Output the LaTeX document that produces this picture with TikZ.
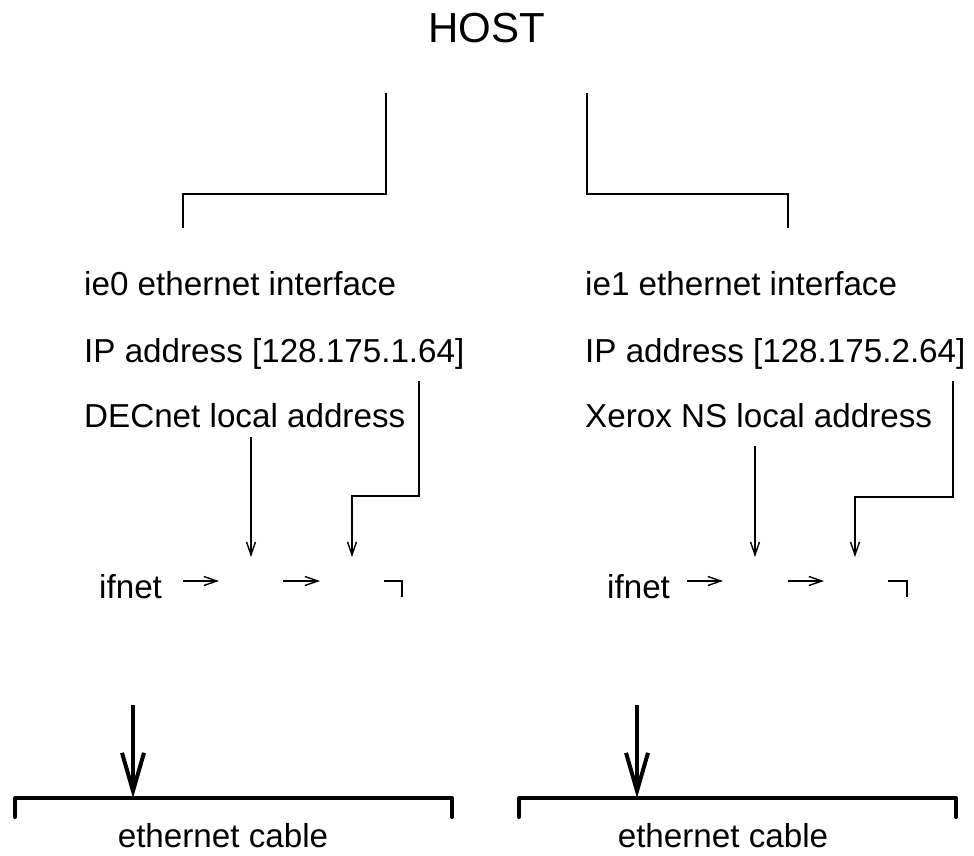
\documentclass[tikz,border=0pt]{standalone}
\usepackage{fontspec}
\setmainfont{Liberation Sans}
\usetikzlibrary{arrows.meta}
\begin{document}
\begin{tikzpicture}[x=1pt,y=-1pt,
  lbl/.style={inner sep=0pt,anchor=base west,font=\fontsize{33.2}{40}\selectfont},
  cablbl/.style={inner sep=0pt,anchor=base,font=\fontsize{33.2}{40}\selectfont},
  thin/.style={line width=1.5pt},
  thinarrow/.style={line width=1.4pt,-{Straight Barb[length=13pt,width=9pt,line width=1.4pt]}},
  thickarrow/.style={line width=4pt,-{Straight Barb[length=38pt,width=22pt,line width=4pt]}},
  cable/.style={line width=4pt,line cap=round,line join=round}]
\useasboundingbox (0,0) rectangle (974,855);
% title
\node[inner sep=0pt,anchor=base,font=\fontsize{42}{48}\selectfont] (host) at (487,42) {HOST};
% left column texts
\node[lbl] (ie0) at (84,295) {ie0 ethernet interface};
\node[lbl] (ip0) at (84,362) {IP address [128.175.1.64]};
\node[lbl] (dec) at (84,427) {DECnet local address};
\node[lbl] (if0) at (99,598) {ifnet};
% right column texts
\node[lbl] (ie1) at (585,295) {ie1 ethernet interface};
\node[lbl] (ip1) at (585,362) {IP address [128.175.2.64]};
\node[lbl] (xns) at (585,427) {Xerox NS local address};
\node[lbl] (if1) at (607,598) {ifnet};
% cable labels
\node[cablbl] (cab0) at (223,847) {ethernet cable};
\node[cablbl] (cab1) at (723,847) {ethernet cable};
% coordinates
\coordinate (tl0) at (386,93);
\coordinate (tl1) at (183,194);
\coordinate (tl2) at (183,228);
\coordinate (tr0) at (587,93);
\coordinate (tr1) at (788,194);
\coordinate (tr2) at (788,228);
\coordinate (d0s) at (251,437);
\coordinate (d0e) at (251,557);
\coordinate (p0s) at (419,381);
\coordinate (p0m) at (352,496);
\coordinate (p0e) at (352,557);
\coordinate (d1s) at (755,446);
\coordinate (d1e) at (755,557);
\coordinate (p1s) at (953,381);
\coordinate (p1m) at (855,497);
\coordinate (p1e) at (855,557);
\coordinate (a0s) at (183,581);
\coordinate (a0e) at (219,581);
\coordinate (b0s) at (283,581);
\coordinate (b0e) at (320,581);
\coordinate (c0s) at (384,581);
\coordinate (c0e) at (402,597);
\coordinate (a1s) at (687,581);
\coordinate (a1e) at (723,581);
\coordinate (b1s) at (788,581);
\coordinate (b1e) at (824,581);
\coordinate (c1s) at (888,581);
\coordinate (c1e) at (907,597);
\coordinate (k0s) at (133,705);
\coordinate (k0e) at (133,798);
\coordinate (k1s) at (637,705);
\coordinate (k1e) at (637,798);
\coordinate (e0l) at (15,817);
\coordinate (e0r) at (452,817);
\coordinate (e1l) at (519,817);
\coordinate (e1r) at (956,817);
% top connectors
\draw[thin] (tl0) -- (tl0 |- tl1) -- (tl1) -- (tl2);
\draw[thin] (tr0) -- (tr0 |- tr1) -- (tr1) -- (tr2);
% address arrows
\draw[thinarrow] (d0s) -- (d0e);
\draw[thinarrow] (p0s) -- (p0s |- p0m) -- (p0m) -- (p0e);
\draw[thinarrow] (d1s) -- (d1e);
\draw[thinarrow] (p1s) -- (p1s |- p1m) -- (p1m) -- (p1e);
% ifnet chain
\draw[thinarrow] (a0s) -- (a0e);
\draw[thinarrow] (b0s) -- (b0e);
\draw[thin] (c0s) -- (c0e |- c0s) -- (c0e);
\draw[thinarrow] (a1s) -- (a1e);
\draw[thinarrow] (b1s) -- (b1e);
\draw[thin] (c1s) -- (c1e |- c1s) -- (c1e);
% cables
\draw[cable] (e0l) -- (e0l |- k0e) -- (e0r |- k0e) -- (e0r);
\draw[cable] (e1l) -- (e1l |- k1e) -- (e1r |- k1e) -- (e1r);
\draw[thickarrow] (k0s) -- (k0e);
\draw[thickarrow] (k1s) -- (k1e);
\end{tikzpicture}
\end{document}
